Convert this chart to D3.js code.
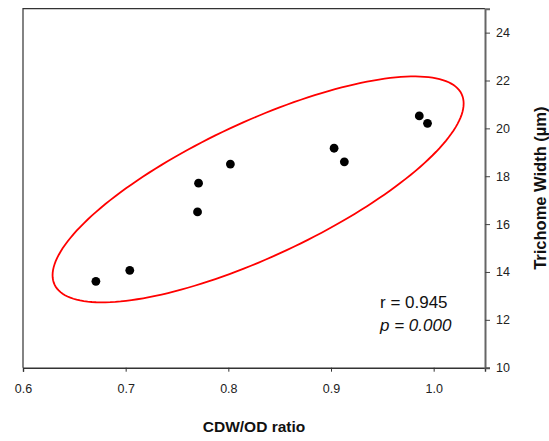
<!DOCTYPE html>
<html>
<head>
<meta charset="utf-8">
<script src="https://cdn.jsdelivr.net/npm/d3@7"></script>
<style>
  body { margin: 0; background: #fff; }
  svg { display: block; font-family: "Liberation Sans", Arial, sans-serif; }
</style>
</head>
<body>
<svg id="chart" width="549" height="441"></svg>
<script>
// CDW/OD ratio vs trichome width
var ratio = [0.671, 0.704, 0.770, 0.771, 0.802, 0.903, 0.913, 0.986, 0.994];
var width_um = [13.61, 14.07, 16.51, 17.71, 18.51, 19.17, 18.60, 20.52, 20.21];
var xTicks = [0.6, 0.7, 0.8, 0.9, 1.0];
var yTicks = [10, 12, 14, 16, 18, 20, 22, 24];
var xDomain = [0.6, 1.05];
var yDomain = [10, 25];
// ellipse drawn round the points (centre, half extents, tilt as correlation)
var ellCentre = [0.829, 17.45];
var ellHalf = [0.2002, 4.72];
var ellRho = 0.76;
var stats = ["r = 0.945", "p = 0.000"];

var data = ratio.map(function(d, i) { return {x: d, y: width_um[i]}; });

var svg = d3.select("svg#chart");
var margin = {top: 8.7, right: 64, bottom: 73.3, left: 23},
    width = 549 - margin.left - margin.right,
    height = 441 - margin.top - margin.bottom;

var g = svg.append("g")
    .attr("transform", "translate(" + margin.left + "," + margin.top + ")");

var x = d3.scaleLinear().domain(xDomain).range([0, width]);
var y = d3.scaleLinear().domain(yDomain).range([height, 0]);

// frame: top and left edges
g.append("path")
    .attr("d", "M0," + height + "V0H" + width)
    .attr("fill", "none")
    .attr("stroke", "#333")
    .attr("stroke-width", 1.2);

// ellipse
var ts = d3.range(0, 2 * Math.PI + 0.01, Math.PI / 90);
var ellPts = ts.map(function(t) {
  return [ellCentre[0] + ellHalf[0] * Math.cos(t),
          ellCentre[1] + ellHalf[1] * (ellRho * Math.cos(t) + Math.sqrt(1 - ellRho * ellRho) * Math.sin(t))];
});
g.append("path")
    .datum(ellPts)
    .attr("d", d3.line().x(function(d) { return x(d[0]); }).y(function(d) { return y(d[1]); }).curve(d3.curveLinearClosed))
    .attr("fill", "none")
    .attr("stroke", "#ff0000")
    .attr("stroke-width", 1.8);

// points
g.selectAll("circle.pt")
    .data(data)
  .enter().append("circle")
    .attr("class", "pt")
    .attr("cx", function(d) { return x(d.x); })
    .attr("cy", function(d) { return y(d.y); })
    .attr("r", 4.4)
    .attr("fill", "#000");

// x axis
var xAxis = g.append("g")
    .attr("transform", "translate(0," + height + ")")
    .call(d3.axisBottom(x).tickValues(xTicks).tickFormat(d3.format(".1f")).tickSizeOuter(0).tickSize(4).tickPadding(12));
xAxis.select(".domain").attr("stroke", "#333").attr("stroke-width", 1.4);
xAxis.selectAll(".tick line").attr("stroke", "#333");
xAxis.selectAll("text").attr("font-size", "12.5px").attr("fill", "#222").attr("font-family", "Liberation Sans, Arial, sans-serif");

// y axis on the right
var yAxis = g.append("g")
    .attr("transform", "translate(" + width + ",0)")
    .call(d3.axisRight(y).tickValues(yTicks).tickSizeOuter(0).tickSize(5).tickPadding(6));
yAxis.select(".domain").attr("stroke", "#666").attr("stroke-width", 2);
yAxis.selectAll(".tick line").attr("stroke", "#444");
yAxis.selectAll("text").attr("font-size", "12.5px").attr("fill", "#222").attr("font-family", "Liberation Sans, Arial, sans-serif");

// stats text
g.append("text")
    .attr("x", 357)
    .attr("y", 299.5)
    .attr("font-size", "17px")
    .attr("fill", "#111")
    .text(stats[0]);
var pText = g.append("text")
    .attr("x", 357)
    .attr("y", 322)
    .attr("font-size", "17px")
    .attr("font-style", "italic")
    .attr("fill", "#111")
    .text(stats[1]);

// axis labels
svg.append("text")
    .attr("text-anchor", "middle")
    .attr("x", 254)
    .attr("y", 431.5)
    .attr("font-size", "15.5px")
    .attr("font-weight", "bold")
    .attr("fill", "#111")
    .text("CDW/OD ratio");

svg.append("text")
    .attr("text-anchor", "middle")
    .attr("transform", "translate(545.5," + (margin.top + height / 2) + ") rotate(-90)")
    .attr("font-size", "16.5px")
    .attr("font-weight", "bold")
    .attr("fill", "#111")
    .text("Trichome Width (\u00b5m)");
</script>
</body>
</html>
